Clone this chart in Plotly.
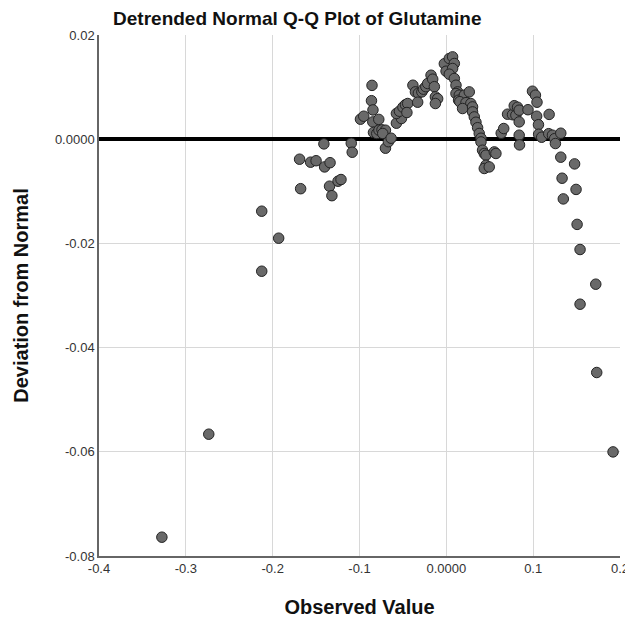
import plotly.graph_objects as go

observed = [
    -0.3276, -0.2736, -0.2126, -0.2126, -0.1931, -0.1690, -0.1678, -0.1563, -0.1500,
    -0.1402, -0.1339, -0.1345, -0.1247, -0.1213, -0.1318, -0.1410, -0.1095, -0.1084,
    -0.0989, -0.0951, -0.0856, -0.0862, -0.0845, -0.0847, -0.0778, -0.0839, -0.0801,
    -0.0776, -0.0741, -0.0701, -0.0732, -0.0701, -0.0667, -0.0636,
    -0.0575, -0.0517, -0.0575, -0.0540, -0.0500, -0.0471, -0.0445, -0.0454,
    -0.0385, -0.0356, -0.0322, -0.0282, -0.0264, -0.0236, -0.0215, -0.0176, -0.0157,
    -0.0138, -0.0330, -0.0126, -0.0100, -0.0126,
    -0.0023, -0.0003, 0.0034, 0.0072, 0.0092, 0.0072, 0.0034,
    0.0092, 0.0111, 0.0130, 0.0111, 0.0149, 0.0141, 0.0207, 0.0264, 0.0155, 0.0226,
    0.0282, 0.0187, 0.0302, 0.0302, 0.0322, 0.0341, 0.0360, 0.0379, 0.0399, 0.0399,
    0.0417, 0.0437, 0.0456, 0.0552, 0.0571, 0.0456, 0.0437, 0.0494,
    0.0632, 0.0661, 0.0705, 0.0762, 0.0801, 0.0782, 0.0820, 0.0839, 0.0839, 0.0940,
    0.0839, 0.0843,
    0.0992, 0.1026, 0.1044, 0.1040, 0.1061, 0.1063, 0.1098, 0.1184, 0.1179, 0.1222,
    0.1247, 0.1256, 0.1318,
    0.1318, 0.1477, 0.1333, 0.1494, 0.1347, 0.1506, 0.1540, 0.1721, 0.1540, 0.1732,
    0.1920,
]
deviation = [
    -0.07639, -0.05662, -0.02534, -0.01382, -0.01900, -0.00384, -0.00950, -0.00441, -0.00413,
    -0.00532, -0.00451, -0.00902, -0.00806, -0.00774, -0.01084, -0.00090, -0.00077, -0.00250,
    0.00384, 0.00441, 0.01033, 0.00739, 0.00562, 0.00332, 0.00380, 0.00130, 0.00110,
    0.00173, 0.00179, 0.00173, 0.00110, -0.00173, -0.00048, 0.00019,
    0.00307, 0.00397, 0.00493, 0.00537, 0.00614, 0.00662, 0.00685, 0.00512,
    0.01036, 0.00908, 0.00883, 0.00908, 0.00960, 0.01008, 0.01069, 0.01228, 0.01152,
    0.01008, 0.00710, 0.00812, 0.00777, 0.00685,
    0.01449, 0.01305, 0.01549, 0.01580, 0.01453, 0.01357, 0.01248,
    0.01165, 0.01036, 0.00908, 0.00877, 0.00845, 0.00749, 0.00845, 0.00908, 0.00720, 0.00701,
    0.00685, 0.00589, 0.00620, 0.00524, 0.00428, 0.00326, 0.00221, 0.00110, 0.00019, -0.00052,
    -0.00211, -0.00274, -0.00307, -0.00244, -0.00274, -0.00499, -0.00562, -0.00532,
    0.00115, 0.00205, 0.00480, 0.00470, 0.00461, 0.00643, 0.00614, 0.00557, 0.00332, 0.00566,
    0.00077, -0.00109,
    0.00921, 0.00845, 0.00710, 0.00441, 0.00278, 0.00096, 0.00038, 0.00476, 0.00106, 0.00077,
    0.00010, -0.00083, 0.00115,
    -0.00345, -0.00474, -0.00749, -0.00964, -0.01146, -0.01635, -0.02117, -0.02783, -0.03167, -0.04478,
    -0.06002,
]

x_tick_vals = [-0.4, -0.3, -0.2, -0.1, 0.0, 0.1, 0.2]
x_tick_text = ["-0.4", "-0.3", "-0.2", "-0.1", "0.0000", "0.1", "0.2"]
y_tick_vals = [0.02, 0.0, -0.02, -0.04, -0.06, -0.08]
y_tick_text = ["0.02", "0.0000", "-0.02", "-0.04", "-0.06", "-0.08"]

fig = go.Figure()
fig.add_trace(go.Scatter(
    x=observed, y=deviation, mode="markers",
    marker=dict(size=10.5, color="rgb(105,105,105)",
                line=dict(color="rgb(35,35,35)", width=1)),
    showlegend=False, hoverinfo="x+y",
))

font_family = "Liberation Sans, Arial, sans-serif"
fig.update_layout(
    width=633, height=623,
    paper_bgcolor="white", plot_bgcolor="white",
    margin=dict(l=91, r=21, t=27, b=75),
    font=dict(family=font_family, color="#333333"),
    title=dict(text="<b>Detrended Normal Q-Q Plot of Glutamine</b>",
               xref="container", x=0.457, xanchor="center",
               yref="container", y=0.984, yanchor="middle",
               font=dict(size=19, color="#111111", family=font_family)),
    xaxis=dict(range=[-0.4, 0.2], tickvals=x_tick_vals, ticktext=x_tick_text,
               showgrid=True, gridcolor="#d8d8d8", gridwidth=1,
               zeroline=False, showline=True, linecolor="#666666", linewidth=1.5,
               ticks="", tickfont=dict(size=13, color="#333333"),
               title=dict(text="<b>Observed Value</b>", standoff=25,
                          font=dict(size=20, color="#111111"))),
    yaxis=dict(range=[-0.08, 0.02], tickvals=y_tick_vals, ticktext=y_tick_text,
               showgrid=True, gridcolor="#d8d8d8", gridwidth=1,
               zeroline=True, zerolinecolor="#000000", zerolinewidth=4,
               showline=True, linecolor="#666666", linewidth=1.5,
               ticks="", tickfont=dict(size=13, color="#333333"),
               title=dict(text="<b>Deviation from Normal</b>", standoff=21,
                          font=dict(size=20, color="#111111"))),
)

fig.write_html("out.html")
